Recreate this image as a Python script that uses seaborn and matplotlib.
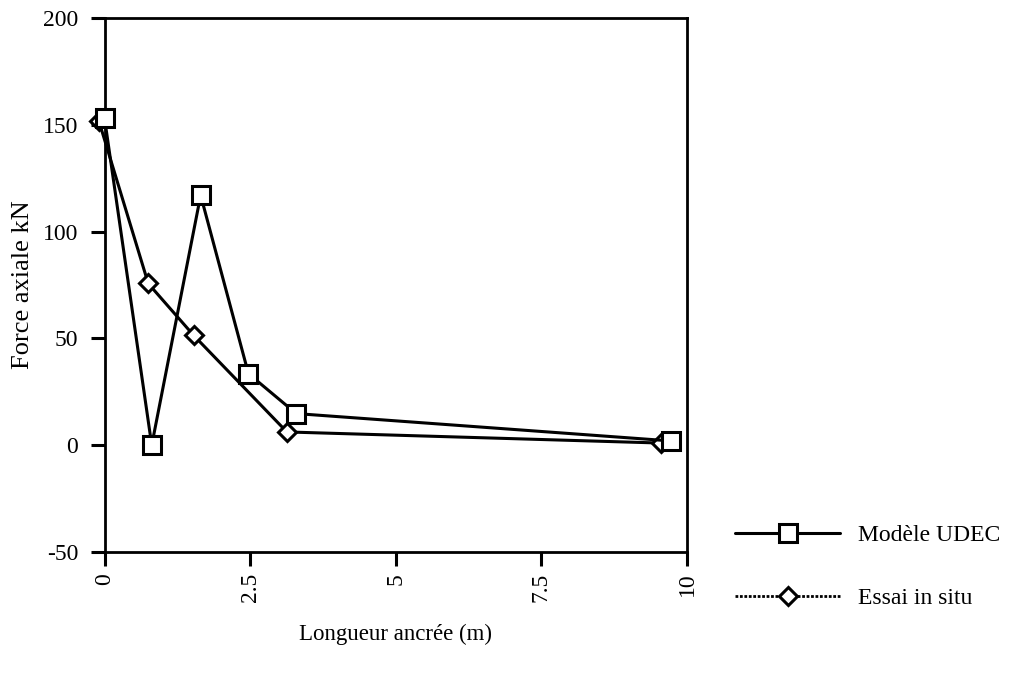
import matplotlib
matplotlib.use("Agg")
import matplotlib.pyplot as plt
from matplotlib.lines import Line2D
import seaborn as sns
import pandas as pd

udec_x = [0.0, 0.81, 1.65, 2.47, 3.29, 9.72]
udec_y = [153, 0, 117, 33.5, 14.8, 2]
essai_x = [-0.1, 0.75, 1.53, 3.13, 9.55]
essai_y = [152, 75.7, 51.4, 6.2, 1.0]
x_ticks = [0, 2.5, 5, 7.5, 10]
x_tick_labels = ["0", "2.5", "5", "7.5", "10"]
y_ticks = [-50, 0, 50, 100, 150, 200]
series_names = ["Modèle UDEC", "Essai in situ"]

sns.set_theme(style="white", rc={"text.color": "black", "axes.labelcolor": "black",
                                 "xtick.color": "black", "ytick.color": "black"})
plt.rcParams['font.family'] = ['Liberation Serif', 'DejaVu Serif']
plt.rcParams['font.size'] = 17

fig = plt.figure(figsize=(10.18, 6.73), dpi=100)
ax = fig.add_axes([0.1027, 0.1798, 0.5722, 0.7935])

df_u = pd.DataFrame({"x": udec_x, "y": udec_y})
df_e = pd.DataFrame({"x": essai_x, "y": essai_y})

sns.lineplot(data=df_e, x="x", y="y", sort=False, ax=ax, color="black", lw=2.2,
             marker="D", markersize=9, markerfacecolor="white",
             markeredgecolor="black", markeredgewidth=2.2, clip_on=False, zorder=3)
sns.lineplot(data=df_u, x="x", y="y", sort=False, ax=ax, color="black", lw=2.2,
             marker="s", markersize=13, markerfacecolor="white",
             markeredgecolor="black", markeredgewidth=2.2, clip_on=False, zorder=4)

ax.set_xlim(0, 10)
ax.set_ylim(-50, 200)
ax.set_xticks(x_ticks)
ax.set_xticklabels(x_tick_labels, rotation=90, fontsize=17)
ax.set_yticks(y_ticks)
ax.set_yticklabels([str(v) for v in y_ticks], fontsize=17)
ax.tick_params(axis="both", direction="out", length=10, width=2.2, color="black",
               labelcolor="black", bottom=True, left=True)
ax.tick_params(axis="y", pad=9)
ax.tick_params(axis="x", pad=5)
for s in ax.spines.values():
    s.set_visible(True)
    s.set_color("black")
    s.set_linewidth(2)

ax.set_xlabel("Longueur ancrée (m)", fontsize=16.5, labelpad=16)
ax.set_ylabel("Force axiale kN", fontsize=19, labelpad=6)

handles = [
    Line2D([], [], color="black", lw=2.2, ls="-", marker="s", markersize=13,
           markerfacecolor="white", markeredgecolor="black", markeredgewidth=2.2),
    Line2D([], [], color="black", lw=2, ls=(0, (1, 0.6)), marker="D", markersize=9,
           markerfacecolor="white", markeredgecolor="black", markeredgewidth=2.2),
]
fig.legend(handles, series_names, loc="upper left", bbox_to_anchor=(0.722, 0.22),
           frameon=False, handlelength=4.45, labelspacing=1.75, handletextpad=0.76,
           borderpad=0, borderaxespad=0, fontsize=17)

fig.savefig("out.png", dpi=100)
